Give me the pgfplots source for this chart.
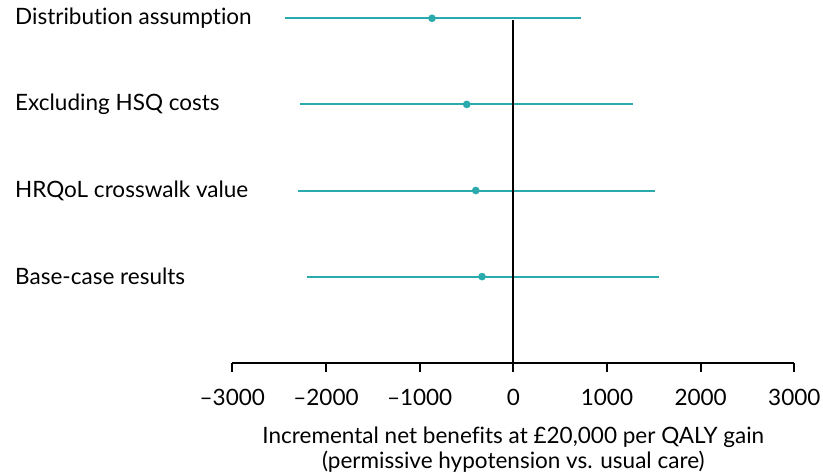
\documentclass[border=0pt]{standalone}
\usepackage{fontspec}
\setmainfont{Lato}[Ligatures=NoCommon]
\usepackage{pgfplots}
\pgfplotsset{compat=1.18}
\definecolor{tealc}{RGB}{42,170,172}
\begin{document}
\fontsize{22.6}{26}\selectfont
\begin{tikzpicture}
\begin{axis}[
  x=0.09367bp, y=86.1bp,
  xmin=-3000, xmax=3000, ymin=0, ymax=4.3,
  axis x line=bottom, axis y line=none,
  axis line style={line width=1.8bp, black, -},
  xtick={-3000,-2000,-1000,0,1000,2000,3000},
  xticklabels={\textendash3000,\textendash2000,\textendash1000,0,1000,2000,3000},
  tick align=outside,
  major tick length=9bp,
  tick style={line width=1.8bp, black},
  ytick=\empty,
  xticklabel style={font=\fontsize{22.6}{26}\selectfont, yshift=-10bp},
  xlabel={Incremental net benefits at \pounds20,000 per QALY gain\\(permissive hypotension vs. usual care)},
  xlabel style={align=center, font=\fontsize{22.6}{24.5}\selectfont, yshift=-6bp},
  clip=false,
]
% rows: 4 = Distribution assumption, 3 = Excluding HSQ costs, 2 = HRQoL crosswalk value, 1 = Base-case results
\addplot[tealc, line width=2bp] coordinates {(-2437,4) (723,4)};
\addplot[tealc, line width=2bp] coordinates {(-2277,3) (1278,3)};
\addplot[tealc, line width=2bp] coordinates {(-2302,2) (1513,2)};
\addplot[tealc, line width=2bp] coordinates {(-2202,1) (1555,1)};
\addplot[black, line width=1.8bp] coordinates {(0,0) (0,3.98)};
\addplot[only marks, mark=*, mark size=3.6bp, tealc, mark options={draw=tealc, fill=tealc}] coordinates {
  (-868,4) (-497,3) (-401,2) (-334,1)};
\node[anchor=west, inner sep=0pt] at (axis cs:-5320,4) {Distribution assumption};
\node[anchor=west, inner sep=0pt] at (axis cs:-5320,3) {Excluding HSQ costs};
\node[anchor=west, inner sep=0pt] at (axis cs:-5320,2) {HRQoL crosswalk value};
\node[anchor=west, inner sep=0pt] at (axis cs:-5320,1) {Base-case results};
\coordinate (bbll) at (axis cs:-5480,-1.3043);
\coordinate (bbur) at (axis cs:3306,4.2125);
\end{axis}
\pgfresetboundingbox
\path (bbll) rectangle (bbur);
\end{tikzpicture}
\end{document}
